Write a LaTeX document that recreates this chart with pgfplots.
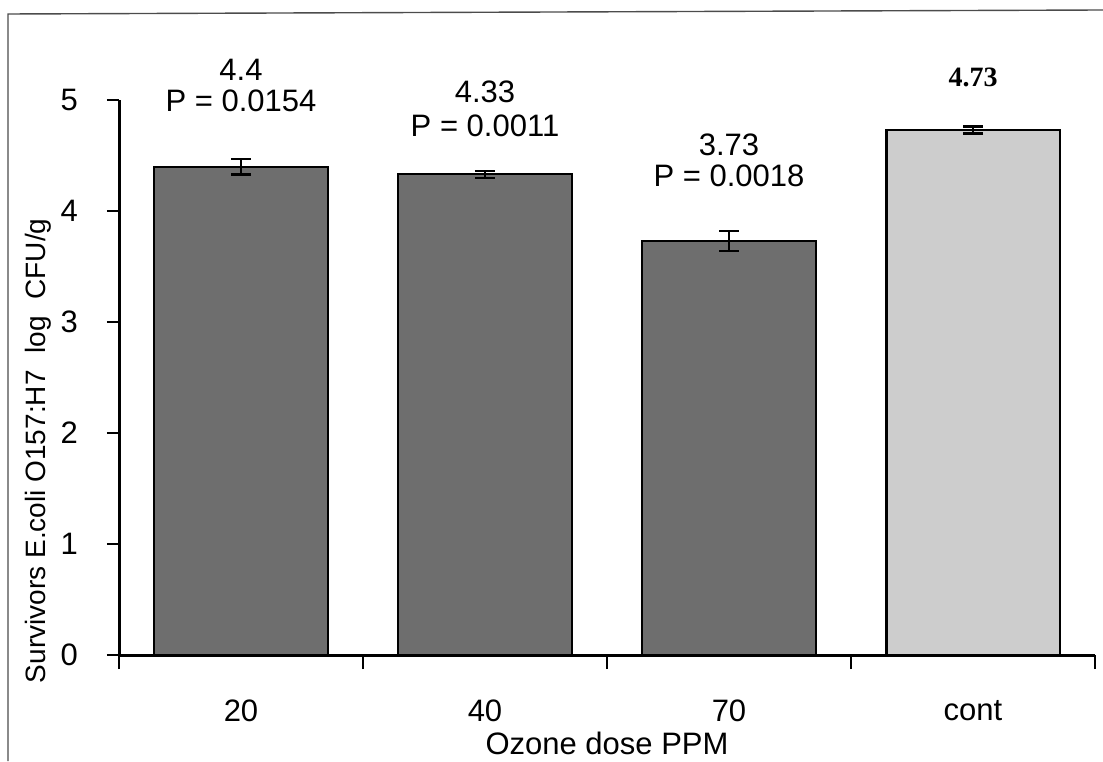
\documentclass[border=0pt]{standalone}
\usepackage{pgfplots}
\pgfplotsset{compat=1.18}
\usepackage{fontspec}
\setmainfont{Liberation Sans}
\newfontfamily\seriffont{Liberation Serif}
\definecolor{darkbar}{HTML}{6E6E6E}
\definecolor{lightbar}{HTML}{CDCDCD}
\begin{document}
\begin{tikzpicture}[x=1pt,y=1pt]
\useasboundingbox (0,0) rectangle (551.5,380.5);
\draw[line width=0.7pt,black!70] (4,0) -- (4,373.5) -- (551.5,375.5);
\begin{axis}[
  at={(59.5pt,53pt)}, anchor=origin,
  scale only axis, width=488pt, height=277.5pt,
  xmin=0.5, xmax=4.5, ymin=0, ymax=5,
  axis x line=bottom, axis y line=left,
  axis line style={line width=1.5pt,-},
  xtick={1,2,3,4}, xticklabels={20,40,70,cont},
  major x tick style={draw=none},
  minor xtick={0.5,1.5,2.5,3.5,4.5},
  minor tick length=7pt,
  minor x tick style={line width=1.2pt,black},
  ytick={0,1,2,3,4,5},
  major tick length=6pt,
  tick align=outside,
  major y tick style={line width=1.2pt,black},
  /pgf/number format/assume math mode=true,
  tick label style={font=\fontsize{15.5}{17}\selectfont},
  xticklabel style={yshift=-13pt},
  yticklabel style={xshift=-11pt},
  xlabel={Ozone dose PPM},
  ylabel={Survivors E.coli O157:H7\hspace{0.6em}log\hspace{0.6em}CFU/g},
  xlabel style={font=\fontsize{15.5}{17}\selectfont, at={(axis description cs:0.5,0)}, anchor=center, yshift=-44pt},
  ylabel style={font=\fontsize{14}{16}\selectfont, at={(axis description cs:-0.083,0.368)}, anchor=center},
  clip=false,
  ybar, bar width=86.5pt, bar shift=0pt,
]
\addplot[fill=darkbar, draw=black, line width=1pt, bar shift=0pt,
  error bars/.cd, y dir=both, y explicit,
  error bar style={line width=1.2pt,black}, error mark options={rotate=90,mark size=5pt,line width=1.2pt}]
  coordinates {(1,4.40) +- (0,0.07) (2,4.33) +- (0,0.03) (3,3.73) +- (0,0.09)};
\addplot[fill=lightbar, draw=black, line width=1pt, bar shift=0pt,
  error bars/.cd, y dir=both, y explicit,
  error bar style={line width=1.2pt,black}, error mark options={rotate=90,mark size=5pt,line width=1.2pt}]
  coordinates {(4,4.73) +- (0,0.03)};
\begin{scope}[font=\fontsize{15.5}{17}\selectfont]
\node at (axis cs:1,5.27) {4.4};
\node at (axis cs:1,4.99) {P = 0.0154};
\node at (axis cs:2,5.07) {4.33};
\node at (axis cs:2,4.77) {P = 0.0011};
\node at (axis cs:3,4.60) {3.73};
\node at (axis cs:3,4.32) {P = 0.0018};
\node[font=\seriffont\bfseries\fontsize{14}{16}\selectfont] at (axis cs:4,5.2) {4.73};
\end{scope}
\end{axis}
\end{tikzpicture}
\end{document}
